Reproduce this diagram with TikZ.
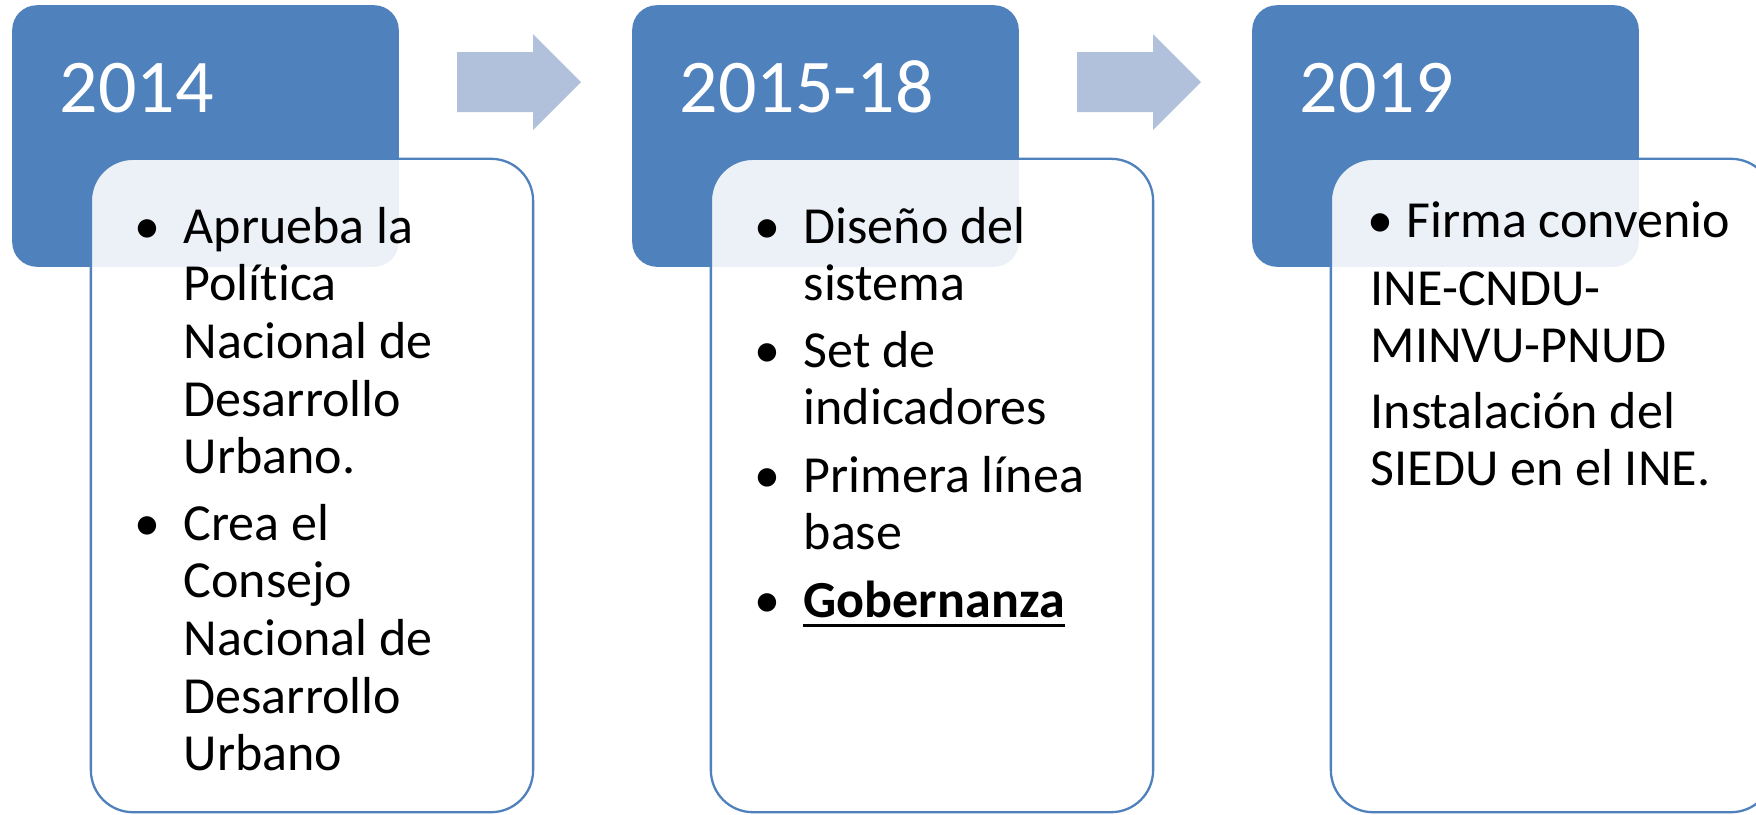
\documentclass[tikz,border=0pt]{standalone}
\usepackage{fontspec}
\setmainfont{Carlito}[Ligatures={NoCommon}]
\definecolor{accblue}{RGB}{79,129,189}
\definecolor{arrowblue}{RGB}{178,193,219}
\newcommand{\boxlines}[1]{\parbox[t]{5cm}{\raggedright #1}}
\tikzset{
  yearbox/.style={fill=accblue, draw=accblue, rounded corners=0.24cm, minimum width=3.85cm, minimum height=2.60cm, inner sep=0},
  detailbox/.style={draw=accblue, line width=0.65pt, fill=white, fill opacity=0.89, rounded corners=0.42cm, minimum width=4.42cm, minimum height=6.53cm, inner sep=0},
  yeartext/.style={text=white, font=\fontsize{21.6pt}{26pt}\selectfont, anchor=base west, inner sep=0},
  bodytext/.style={text=black, font=\fontsize{14.8pt}{16.4pt}\selectfont, anchor=base west, inner sep=0},
  bulletmark/.style={text=black, font=\fontsize{14.8pt}{16.4pt}\selectfont, anchor=base, inner sep=0},
  flowarrow/.style={fill=arrowblue},
  underrule/.style={line width=0.85pt, black}
}
\begin{document}
\begin{tikzpicture}[x=0.01cm,y=-0.01cm]
\useasboundingbox (0,0) rectangle (1756,814);
\clip (0,0) rectangle (1756,814);
\fill[white] (0,0) rectangle (1756,814);

% year boxes
\node[yearbox] (y1) at (205.5,136) {};
\node[yearbox] (y2) at (825.5,136) {};
\node[yearbox] (y3) at (1445.5,136) {};

% arrows
\fill[flowarrow] (457,52) -- (533,52) -- (533,34) -- (581,82) -- (533,130) -- (533,112) -- (457,112) -- cycle;
\fill[flowarrow] (1077,52) -- (1153,52) -- (1153,34) -- (1201,82) -- (1153,130) -- (1153,112) -- (1077,112) -- cycle;

% detail boxes
\node[detailbox] (d1) at (312,485.5) {};
\node[detailbox] (d2) at (932,485.5) {};
\node[detailbox] (d3) at (1552,485.5) {};

% year labels
\node[yeartext] (t1) at (59,112) {2014};
\node[yeartext] (t2) at (679,112) {2015-18};
\node[yeartext] (t3) at (1299,112) {2019};

% box 1 text
\node[bulletmark] (b11) at (147,243) {•};
\node[bodytext] (p11) at (183,243) {\boxlines{Aprueba la\\Política\\Nacional de\\Desarrollo\\Urbano.}};
\node[bulletmark] (b12) at (147,540) {•};
\node[bodytext] (p12) at (183,540) {\boxlines{Crea el\\Consejo\\Nacional de\\Desarrollo\\Urbano}};

% box 2 text
\node[bulletmark] (b21) at (767,243) {•};
\node[bodytext] (p21) at (803,243) {\boxlines{Diseño del\\sistema}};
\node[bulletmark] (b22) at (767,367) {•};
\node[bodytext] (p22) at (803,367) {\boxlines{Set de\\indicadores}};
\node[bulletmark] (b23) at (767,492) {•};
\node[bodytext] (p23) at (803,492) {\boxlines{Primera línea\\base}};
\node[bulletmark] (b24) at (767,617) {•};
\node[bodytext] (p24) at (803,617) {\textbf{Gobernanza}};
\draw[underrule] ([yshift=-0.08cm]p24.base west) -- ([yshift=-0.08cm]p24.base east);

% box 3 text
\node[bulletmark] (b31) at (1380,237) {•};
\node[bodytext] (p31) at (1406,237) {Firma convenio};
\node[bodytext] (p32) at (1370,305) {\boxlines{INE-CNDU-\\MINVU-PNUD}};
\node[bodytext] (p33) at (1370,428) {\boxlines{Instalación del\\SIEDU en el INE.}};
\end{tikzpicture}
\end{document}
